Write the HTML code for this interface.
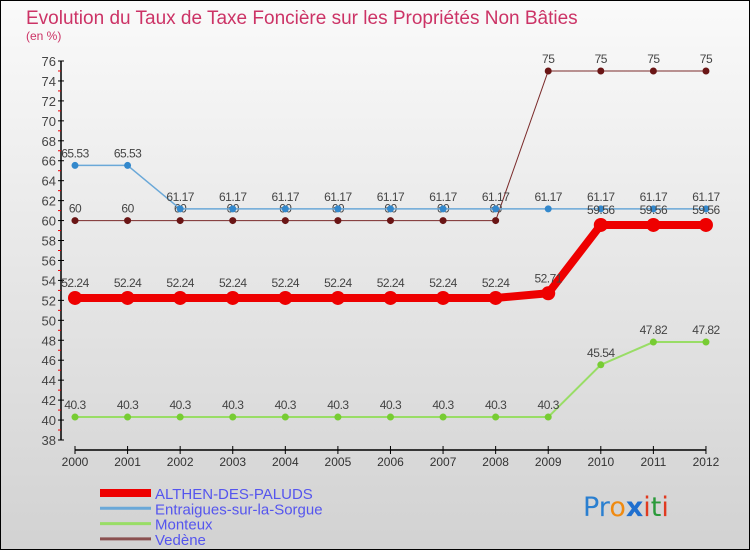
<!DOCTYPE html>
<html><head><meta charset="utf-8"><style>
html,body{margin:0;padding:0}
body{width:750px;height:550px;overflow:hidden;font-family:"Liberation Sans",sans-serif}
</style></head><body>
<svg id="chart" width="750" height="550" xmlns="http://www.w3.org/2000/svg">
<defs><linearGradient id="bg" x1="0" y1="0" x2="0" y2="1"><stop offset="0" stop-color="#fafafa"/><stop offset="1" stop-color="#d2d2d2"/></linearGradient></defs>
<rect x="0.5" y="0.5" width="749" height="549" fill="url(#bg)" stroke="#000"/>
<text x="26" y="24" font-size="19" fill="#cc3366">Evolution du Taux de Taxe Foncière sur les Propriétés Non Bâties</text>
<text x="26" y="40" font-size="12" fill="#cc3366">(en %)</text>
<g id="axes"></g>
<g id="series"></g>
<g id="legend"></g>
<g font-size="27" font-family="'DejaVu Sans',sans-serif">
<text x="583" y="516"><tspan fill="#2a7fd0">Pr</tspan><tspan fill="#f08a10">o</tspan><tspan fill="#1f6fcf" font-weight="bold">x</tspan><tspan fill="#e03a20">i</tspan><tspan fill="#2a9a3a">t</tspan><tspan fill="#e03a20">i</tspan></text>
</g>
</svg>
<script>
const years=[2000,2001,2002,2003,2004,2005,2006,2007,2008,2009,2010,2011,2012];
const yTicks=[38,40,42,44,46,48,50,52,54,56,58,60,62,64,66,68,70,72,74,76];
const seriesNames=["ALTHEN-DES-PALUDS","Entraigues-sur-la-Sorgue","Monteux","Vedène"];
const althen=[52.24,52.24,52.24,52.24,52.24,52.24,52.24,52.24,52.24,52.71,59.56,59.56,59.56];
const entraigues=[65.53,65.53,61.17,61.17,61.17,61.17,61.17,61.17,61.17,61.17,61.17,61.17,61.17];
const monteux=[40.3,40.3,40.3,40.3,40.3,40.3,40.3,40.3,40.3,40.3,45.54,47.82,47.82];
const vedene=[60,60,60,60,60,60,60,60,60,75,75,75,75];
const NS="http://www.w3.org/2000/svg";
const X=i=>75+i*52.58;
const Y=v=>440-(v-38)*(379/38);
function mk(p,t,a){const e=document.createElementNS(NS,t);for(const k in a)e.setAttribute(k,a[k]);p.appendChild(e);return e;}
const ax=document.getElementById('axes');
let e=mk(ax,'line',{x1:61,y1:61,x2:61,y2:440,stroke:'#000','stroke-width':1.5});


yTicks.forEach(t=>{
  mk(ax,'line',{x1:58,x2:64,y1:Y(t),y2:Y(t),stroke:'#000'});
  if(t<76) mk(ax,'line',{x1:58,x2:61,y1:Y(t+1),y2:Y(t+1),stroke:'#e00'});
  const tx=mk(ax,'text',{x:56,y:Y(t)+5,'text-anchor':'end','font-size':13,fill:'#444'});
  tx.textContent=t;
  
  
});
e=mk(ax,'line',{x1:X(0),y1:450,x2:X(12),y2:450,stroke:'#000','stroke-width':1.5});


years.forEach((yr,i)=>{
  mk(ax,'line',{x1:X(i),x2:X(i),y1:446,y2:454,stroke:'#000'});
  const tx=mk(ax,'text',{x:X(i),y:466,'text-anchor':'middle','font-size':12,fill:'#333'});
  tx.textContent=yr;
  
  
});
const sg=document.getElementById('series');
const defs=[
 {d:monteux,c:'#99dd66',pc:'#77cc33',w:2,r:3.5,n:'monteux'},
 {d:vedene,c:'#7a2a2a',pc:'#6a1515',w:1,r:3.5,n:'vedene'},
 {d:entraigues,c:'#6aa8d8',pc:'#3388cc',w:1.5,r:3.5,n:'entraigues'},
 {d:althen,c:'#ee0000',pc:'#ee0000',w:8,r:7,n:'althen'}
];
defs.forEach(s=>{
  const g=mk(sg,'g',{});
  
  
  const pl=mk(g,'polyline',{points:s.d.map((v,i)=>X(i)+','+Y(v)).join(' '),fill:'none',stroke:s.c,'stroke-width':s.w,'stroke-linejoin':'round'});
  
  
  s.d.forEach((v,i)=>{
    const c=mk(g,'circle',{cx:X(i),cy:Y(v),r:s.r,fill:s.pc});
    
    
    const t=mk(g,'text',{x:X(i),y:Y(v)-8-(s.n==='althen'?3:0),'text-anchor':'middle','font-size':12,fill:'#444','letter-spacing':'-0.5'});
    t.textContent=v;
    
    
  });
});
const lg=document.getElementById('legend');
const lc=[['#ee0000',8],['#6aa8d8',3],['#99dd66',3],['#8a5050',3]];
seriesNames.forEach((n,i)=>{
  const y=493+i*15.3;
  const l=mk(lg,'line',{x1:100,x2:151,y1:y,y2:y,stroke:lc[i][0],'stroke-width':lc[i][1]});
  
  
  const t=mk(lg,'text',{x:155,y:y+6,'font-size':15,fill:'#5555ee'});
  t.textContent=n;
  
  
});
</script>
</body></html>
